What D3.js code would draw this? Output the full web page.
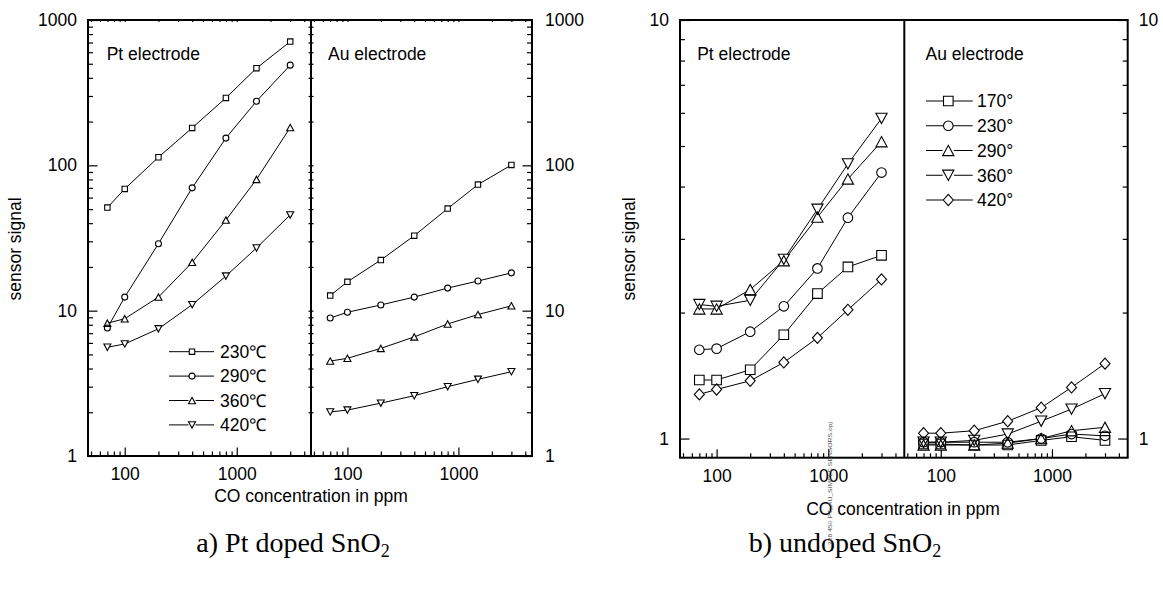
<!DOCTYPE html>
<html>
<head>
<meta charset="utf-8">
<script src="https://cdn.jsdelivr.net/npm/d3@7"></script>
<style>
  body { margin: 0; background: #fff; }
  .sans { font-family: "Liberation Sans", Arial, Helvetica, sans-serif; }
  .serif { font-family: "Liberation Serif", "Times New Roman", serif; }
</style>
</head>
<body>
<svg id="fig" width="1163" height="590"></svg>
<script>
// CO concentrations (ppm) used for every series
const concentrations = [70, 100, 200, 400, 800, 1500, 3000];

// a) Pt doped SnO2 — operating temperatures
const dopedLabels = ["230\u2103", "290\u2103", "360\u2103", "420\u2103"];
const dopedPt230 = [51.2, 68.8, 113.7, 181, 291, 466, 710];
const dopedPt290 = [7.6, 12.4, 28.9, 70, 154, 276, 489];
const dopedPt360 = [8.2, 8.8, 12.4, 21.5, 42, 80, 182];
const dopedPt420 = [5.6, 5.9, 7.5, 11, 17.3, 27, 45.6];
const dopedAu230 = [12.7, 15.8, 22.3, 32.8, 50.4, 73.7, 100.6];
const dopedAu290 = [8.9, 9.75, 10.95, 12.4, 14.3, 16.0, 18.2];
const dopedAu360 = [4.5, 4.7, 5.5, 6.6, 8.1, 9.4, 10.8];
const dopedAu420 = [2.01, 2.07, 2.31, 2.6, 3.0, 3.37, 3.8];

// b) undoped SnO2 — operating temperatures
const undopedLabels = ["170\u00b0", "230\u00b0", "290\u00b0", "360\u00b0", "420\u00b0"];
const undopedPt170 = [1.38, 1.38, 1.46, 1.77, 2.22, 2.57, 2.74];
const undopedPt230 = [1.63, 1.64, 1.80, 2.07, 2.55, 3.37, 4.32];
const undopedPt290 = [2.04, 2.04, 2.27, 2.66, 3.38, 4.17, 5.12];
const undopedPt360 = [2.09, 2.07, 2.14, 2.68, 3.53, 4.53, 5.82];
const undopedPt420 = [1.275, 1.31, 1.374, 1.52, 1.74, 2.03, 2.40];
const undopedAu170 = [0.97, 0.97, 0.965, 0.965, 0.99, 1.01, 0.99];
const undopedAu230 = [0.98, 0.98, 0.98, 0.98, 1.0, 1.025, 1.015];
const undopedAu290 = [0.965, 0.965, 0.965, 0.975, 1.0, 1.044, 1.064];
const undopedAu360 = [0.98, 0.98, 0.99, 1.025, 1.10, 1.176, 1.28];
const undopedAu420 = [1.03, 1.03, 1.044, 1.10, 1.185, 1.325, 1.51];

// axis tick labels
const xTickValues = [100, 1000];
const yTicksDoped = [1, 10, 100, 1000];
const yTicksUndoped = [1, 10];

const svg = d3.select("#fig");
svg.append("rect").attr("width", 1163).attr("height", 590).attr("fill", "#fff");

function symbolPath(type, r) {
  switch (type) {
    case "square": return `M${-r},${-r}H${r}V${r}H${-r}Z`;
    case "circle": return `M${r},0A${r},${r} 0 1,1 ${-r},0A${r},${r} 0 1,1 ${r},0Z`;
    case "up": { const h = r * 0.92; return `M0,${-h}L${r},${h}L${-r},${h}Z`; }
    case "down": { const h = r * 0.92; return `M0,${h}L${r},${-h}L${-r},${-h}Z`; }
    case "diamond": { const h = r * 1.12; return `M0,${-h}L${r},0L0,${h}L${-r},0Z`; }
  }
}

// minor ticks of a log axis (2..9 × each decade) inside the domain
function minorTicks(lo, hi, majors) {
  const out = [];
  for (let e = Math.floor(Math.log10(lo)); e <= Math.ceil(Math.log10(hi)); e++) {
    for (let m = 1; m <= 9; m++) {
      const v = m * Math.pow(10, e);
      if (v >= lo * 1.0001 && v <= hi * 0.9999 && !majors.includes(v)) out.push(v);
    }
  }
  return out;
}

function cleanAxis(sel) {
  sel.select(".domain").remove();
  sel.selectAll(".tick line").attr("stroke", "#000").attr("stroke-width", 1.2);
  sel.selectAll("text").attr("class", "sans").attr("font-size", 17.5).attr("fill", "#000");
  sel.attr("font-family", null);
}

function drawChart(cfg) {
  const g = svg.append("g");
  const y = d3.scaleLog().domain(cfg.yDomain).range([cfg.bottom, cfg.top]);
  const yMinor = minorTicks(cfg.yDomain[0], cfg.yDomain[1], cfg.yMajor);

  const panels = [
    { x: d3.scaleLog().domain(cfg.xDomain).range([cfg.x0, cfg.x1]), p: cfg.panels[0] },
    { x: d3.scaleLog().domain(cfg.xDomain).range([cfg.x1, cfg.x2]), p: cfg.panels[1] }
  ];
  const xMinor = minorTicks(cfg.xDomain[0], cfg.xDomain[1], xTickValues);

  panels.forEach(({ x, p }) => {
    // bottom axis, ticks pointing inward
    g.append("g").attr("transform", `translate(0,${cfg.bottom})`)
      .call(d3.axisBottom(x).tickValues(xMinor).tickSize(-4.5).tickFormat(""))
      .call(cleanAxis);
    g.append("g").attr("transform", `translate(0,${cfg.bottom})`)
      .call(d3.axisBottom(x).tickValues(xTickValues).tickSize(-8.5).tickPadding(12).tickFormat(d3.format("d")))
      .call(cleanAxis);
    if (cfg.topTicks) {
      g.append("g").attr("transform", `translate(0,${cfg.top})`)
        .call(d3.axisTop(x).tickValues(xMinor.concat(xTickValues)).tickSize(-2).tickFormat(""))
        .call(cleanAxis);
    }

    // panel title
    g.append("text").attr("class", "sans").attr("font-size", 17.5)
      .attr("x", x(p.titleAt)).attr("y", cfg.titleY).text(p.title);

    const line = d3.line().x(d => x(d[0])).y(d => y(d[1]));
    const series = p.series.map(s => ({ pts: d3.zip(concentrations, s.values), symbol: s.symbol }));

    g.append("g").selectAll("path").data(series).join("path")
      .attr("d", s => line(s.pts)).attr("fill", "none").attr("stroke", "#000").attr("stroke-width", 1);

    // marker backgrounds first, then outlines, so overlapping symbols keep both outlines
    [["#fff", "none"], ["none", "#000"]].forEach(([fill, stroke]) => {
      series.forEach(s => {
        g.append("g").selectAll("path").data(s.pts).join("path")
          .attr("transform", d => `translate(${x(d[0])},${y(d[1])})`)
          .attr("d", symbolPath(s.symbol, cfg.markerR[s.symbol]))
          .attr("fill", fill).attr("stroke", stroke).attr("stroke-width", 1.1);
      });
    });
  });

  // left axis
  g.append("g").attr("transform", `translate(${cfg.x0},0)`)
    .call(d3.axisLeft(y).tickValues(yMinor).tickSize(-5).tickFormat(""))
    .call(cleanAxis);
  g.append("g").attr("transform", `translate(${cfg.x0},0)`)
    .call(d3.axisLeft(y).tickValues(cfg.yMajor).tickSize(-9.5).tickPadding(11).tickFormat(d3.format("d")))
    .call(cleanAxis);
  // right axis
  g.append("g").attr("transform", `translate(${cfg.x2},0)`)
    .call(d3.axisRight(y).tickValues(yMinor).tickSize(-5).tickFormat(""))
    .call(cleanAxis);
  g.append("g").attr("transform", `translate(${cfg.x2},0)`)
    .call(d3.axisRight(y).tickValues(cfg.yMajor).tickSize(-9.5).tickPadding(cfg.rightPad).tickFormat(d3.format("d")))
    .call(cleanAxis);
  if (cfg.dividerTicks) {
    g.append("g").attr("transform", `translate(${cfg.x1},0)`)
      .call(d3.axisLeft(y).tickValues(yMinor.concat(cfg.yMajor)).tickSize(2.5).tickFormat(""))
      .call(cleanAxis);
    g.append("g").attr("transform", `translate(${cfg.x1},0)`)
      .call(d3.axisRight(y).tickValues(yMinor.concat(cfg.yMajor)).tickSize(2.5).tickFormat(""))
      .call(cleanAxis);
  }

  // frame and divider
  g.append("rect").attr("x", cfg.x0).attr("y", cfg.top)
    .attr("width", cfg.x2 - cfg.x0).attr("height", cfg.bottom - cfg.top)
    .attr("fill", "none").attr("stroke", "#000").attr("stroke-width", 2);
  g.append("line").attr("x1", cfg.x1).attr("x2", cfg.x1).attr("y1", cfg.top).attr("y2", cfg.bottom)
    .attr("stroke", "#000").attr("stroke-width", 2);

  // axis titles
  g.append("text").attr("class", "sans").attr("font-size", 17.5).attr("text-anchor", "middle")
    .attr("transform", `translate(${cfg.yTitleX},${cfg.yTitleY}) rotate(-90)`).text("sensor signal");
  g.append("text").attr("class", "sans").attr("font-size", 17.5).attr("text-anchor", "middle")
    .attr("x", cfg.xTitleX).attr("y", cfg.xTitleY).text("CO concentration in ppm");

  // legend
  const lg = g.append("g");
  cfg.legend.labels.forEach((lab, i) => {
    const ly = cfg.legend.y0 + i * cfg.legend.dy;
    const sym = cfg.legend.symbols[i];
    const r = cfg.markerR[sym];
    lg.append("line").attr("x1", cfg.legend.xl0).attr("x2", cfg.legend.xm - r)
      .attr("y1", ly).attr("y2", ly).attr("stroke", "#000");
    lg.append("line").attr("x1", cfg.legend.xm + r).attr("x2", cfg.legend.xl1)
      .attr("y1", ly).attr("y2", ly).attr("stroke", "#000");
    lg.append("path").attr("transform", `translate(${cfg.legend.xm},${ly})`)
      .attr("d", symbolPath(sym, r)).attr("fill", "#fff").attr("stroke", "#000").attr("stroke-width", 1.1);
    lg.append("text").attr("class", "sans").attr("font-size", 17.5)
      .attr("x", cfg.legend.xt).attr("y", ly).attr("dy", "0.36em").text(lab);
  });

  // caption
  const cap = g.append("text").attr("class", "serif").attr("font-size", 28)
    .attr("text-anchor", "middle").attr("x", cfg.capX).attr("y", cfg.capY);
  cap.append("tspan").text(cfg.caption);
  cap.append("tspan").attr("font-size", 18).attr("dy", 5).text("2");
}

const dopedSymbols = ["square", "circle", "up", "down"];
drawChart({
  x0: 88, x1: 311, x2: 532, top: 20, bottom: 456,
  xDomain: [47, 4600], yDomain: [1, 1000], yMajor: yTicksDoped,
  rightPad: 13, topTicks: true, dividerTicks: true, titleY: 59.5,
  markerR: { square: 2.7, circle: 3, up: 3.5, down: 3.5, diamond: 3 },
  panels: [
    { title: "Pt electrode", titleAt: 69, series: [dopedPt230, dopedPt290, dopedPt360, dopedPt420].map((v, i) => ({ values: v, symbol: dopedSymbols[i] })) },
    { title: "Au electrode", titleAt: 67, series: [dopedAu230, dopedAu290, dopedAu360, dopedAu420].map((v, i) => ({ values: v, symbol: dopedSymbols[i] })) }
  ],
  legend: { labels: dopedLabels, symbols: dopedSymbols, y0: 351.7, dy: 24.4, xl0: 169, xm: 192, xl1: 214, xt: 220 },
  yTitleX: 21, yTitleY: 249, xTitleX: 311, xTitleY: 502,
  caption: "a) Pt doped SnO", capX: 293, capY: 552
});

const undopedSymbols = ["square", "circle", "up", "down", "diamond"];
drawChart({
  x0: 680, x1: 904.3, x2: 1127.7, top: 20, bottom: 457.7,
  xDomain: [47, 4800], yDomain: [0.9, 10], yMajor: yTicksUndoped,
  rightPad: 11, topTicks: false, dividerTicks: false, titleY: 59.5,
  markerR: { square: 4.8, circle: 4.8, up: 5.6, down: 5.6, diamond: 5 },
  panels: [
    { title: "Pt electrode", titleAt: 67, series: [undopedPt170, undopedPt230, undopedPt290, undopedPt360, undopedPt420].map((v, i) => ({ values: v, symbol: undopedSymbols[i] })) },
    { title: "Au electrode", titleAt: 73, series: [undopedAu170, undopedAu230, undopedAu290, undopedAu360, undopedAu420].map((v, i) => ({ values: v, symbol: undopedSymbols[i] })) }
  ],
  legend: { labels: undopedLabels, symbols: undopedSymbols, y0: 101, dy: 24.75, xl0: 926, xm: 948.3, xl1: 972.7, xt: 977 },
  yTitleX: 635, yTitleY: 249, xTitleX: 903, xTitleY: 515,
  caption: "b) undoped SnO", capX: 845, capY: 552
});

// small file stamp printed vertically beside the lower axis
svg.append("text").attr("class", "sans").attr("font-size", 5.5).attr("fill", "#555")
  .attr("transform", "translate(831.5,545) rotate(-90)")
  .attr("textLength", 123).attr("lengthAdjust", "spacingAndGlyphs")
  .text("228 450 PT_AU_SIMPLE SENSORS.opj");
</script>
</body>
</html>
